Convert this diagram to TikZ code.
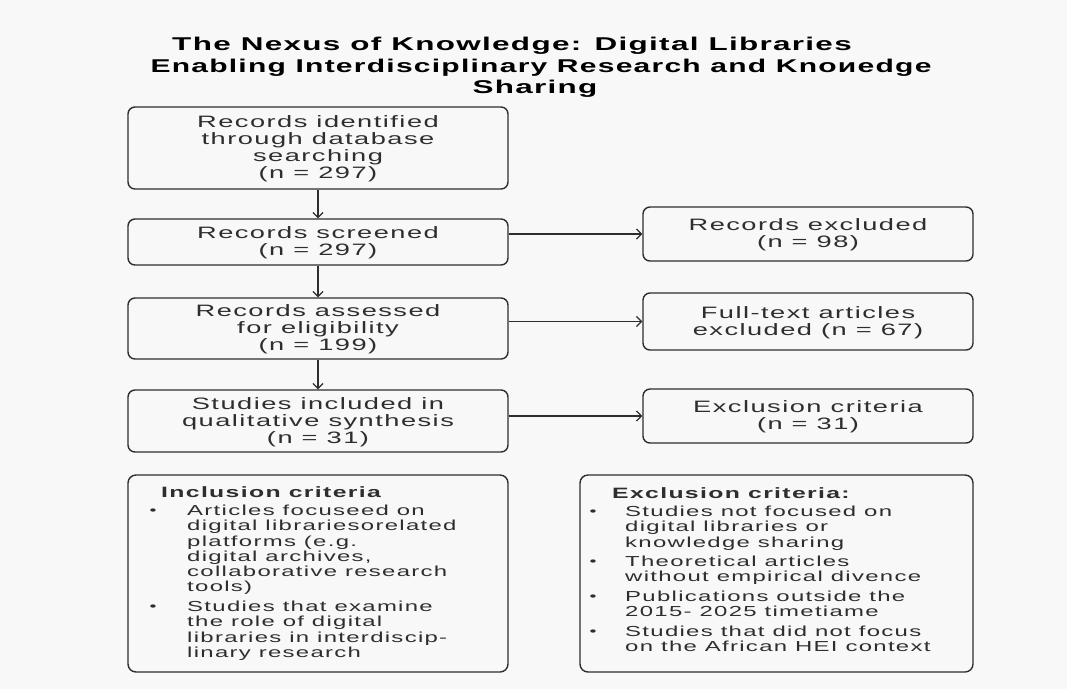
\documentclass[tikz,border=0pt]{standalone}
\usepackage{fontspec}
\usepackage{graphicx}
\setmainfont[FakeStretch=1.65,LetterSpace=9]{Liberation Sans}
\newfontfamily\titlefont[FakeStretch=1.7,LetterSpace=7]{Liberation Sans}
\usetikzlibrary{arrows.meta}
\definecolor{bg}{HTML}{F8F8F8}
\definecolor{ink}{HTML}{2E2E2E}
\begin{document}
\begin{tikzpicture}[x=1pt,y=-1pt,
  box/.style={draw=ink, line width=1.4pt, rounded corners=7pt, align=center,
    inner sep=0pt, text=ink, font=\fontsize{16.5}{17}\selectfont},
  panel/.style={draw=ink, line width=1.4pt, rounded corners=8pt, inner sep=0pt},
  arr/.style={draw=ink, line width=1.2pt, -{Straight Barb[length=5pt,width=10pt]}},
  ttl/.style={anchor=center, inner sep=0pt, text=black, font=\titlefont\fontsize{18.5}{21.5}\selectfont\bfseries},
  head/.style={anchor=west, inner sep=0pt, text=ink, font=\fontsize{15}{15}\selectfont\bfseries},
  dot/.style={anchor=center, inner sep=0pt, text=ink, font=\fontsize{12}{12}\selectfont},
  item/.style={anchor=north west, align=left, inner sep=0pt, text=ink, font=\fontsize{14.5}{15.2}\selectfont},
]
\useasboundingbox[fill=bg] (0,0) rectangle (1067,689);

\node[ttl] (t1) at (512,45.5) {The Nexus of Knowledge: Digital Libraries};
\node[ttl] (t2) at (541,67.5) {\scalebox{0.955}[1]{Enabling Interdisciplinary Research and Knoиedge}};
\node[ttl] (t3) at (535,89) {Sharing};

% left column
\node[box, minimum width=380pt, minimum height=82pt] (b1) at (318,148) {\rule{0pt}{14pt}Records identified\\through database\\searching\\(n = 297)};
\node[box, minimum width=380pt, minimum height=46pt] (b2) at (318,242) {\rule{0pt}{14pt}Records screened\\(n = 297)};
\node[box, minimum width=380pt, minimum height=61pt] (b3) at (318,328.5) {\rule{0pt}{14pt}Records assessed\\for eligibility\\(n = 199)};
\node[box, minimum width=380pt, minimum height=62pt] (b4) at (318,421) {\rule{0pt}{14pt}Studies included in\\qualitative synthesis\\(n = 31)};

% right column
\node[box, minimum width=330pt, minimum height=54pt] (r1) at (808,234) {\rule{0pt}{14pt}Records excluded\\(n = 98)};
\node[box, minimum width=330pt, minimum height=57pt] (r2) at (808,321.5) {\rule{0pt}{14pt}Full-text articles\\excluded (n = 67)};
\node[box, minimum width=330pt, minimum height=54pt] (r3) at (808,416) {\rule{0pt}{14pt}Exclusion criteria\\(n = 31)};

% arrows
\draw[arr] (b1.south) -- (b2.north);
\draw[arr] (b2.south) -- (b3.north);
\draw[arr] (b3.south) -- (b4.north);
\draw[arr] (b2.east |- r1.west) -- (r1.west);
\draw[arr] (b3.east |- r2.west) -- (r2.west);
\draw[arr] (b4.east |- r3.west) -- (r3.west);

% bottom panels
\node[panel, minimum width=380pt, minimum height=197pt] (inc) at (318,573.5) {};
\node[panel, minimum width=393pt, minimum height=197pt] (exc) at (776.5,573.5) {};

\node[head] (inch) at (161,492) {Inclusion criteria};
\node[dot] (id1) at (153,512) {•};
\node[item] (it1) at (187,505) {Articles focuseed on\\digital librariesorelated\\platforms (e.g.\\digital archives,\\collaborative research\\tools)};
\node[dot] (id2) at (153,608) {•};
\node[item] (it2) at (187,601) {Studies that examine\\the role of digital\\libraries in interdiscip-\\linary research};

\node[head] (exch) at (612,493) {Exclusion criteria:};
\node[dot] (ed1) at (593,513) {•};
\node[item] (et1) at (625,506) {Studies not focused on\\digital libraries or\\knowledge sharing};
\node[dot] (ed2) at (593,563) {•};
\node[item] (et2) at (625,556) {Theoretical articles\\without empirical divence};
\node[dot] (ed3) at (593,598) {•};
\node[item] (et3) at (625,591) {Publications outside the\\2015- 2025 timetiame};
\node[dot] (ed4) at (593,633) {•};
\node[item] (et4) at (625,626) {Studies that did not focus\\on the African HEI context};
\end{tikzpicture}
\end{document}
